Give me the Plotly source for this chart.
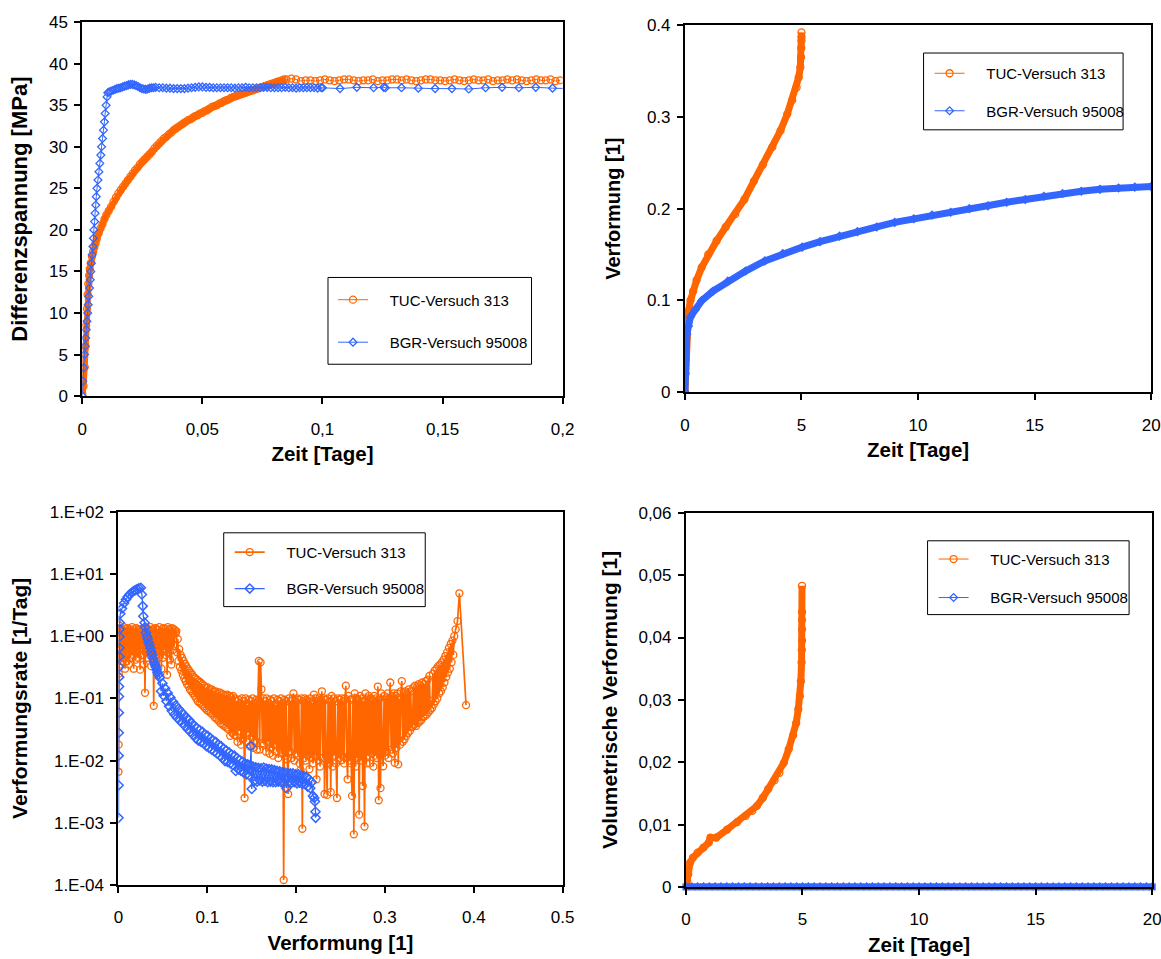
import plotly.graph_objects as go

ORANGE = "#FF6600"
BLUE = "#3366FF"
FONT = "Liberation Sans, Arial, sans-serif"

# figure size, html body margin and the page-to-screen scale used for placing subplots
W, H = 1181, 975
OFF = 8
SCALE = 0.983

NAME_TUC = "TUC-Versuch 313"
NAME_BGR = "BGR-Versuch 95008"
PAD = "\u00a0" * 4

# ---------------- Differenzspannung [MPa] über Zeit [Tage] ----------------
tuc_t1 = [0.0, 0.0005, 0.001, 0.0013, 0.0016, 0.0019, 0.0022, 0.0025, 0.0028, 0.0031,
          0.0035, 0.004, 0.0045, 0.005, 0.0055, 0.006, 0.0068, 0.0076, 0.0084, 0.0092,
          0.010, 0.011, 0.012, 0.013, 0.014, 0.015, 0.016, 0.017, 0.018, 0.019,
          0.020, 0.021, 0.022, 0.023, 0.024, 0.025, 0.026, 0.027, 0.028, 0.029,
          0.030, 0.031, 0.032, 0.033, 0.034, 0.035, 0.036, 0.037, 0.038, 0.039,
          0.040, 0.041, 0.042, 0.043, 0.044, 0.045, 0.046, 0.047, 0.048, 0.049,
          0.050, 0.051, 0.052, 0.053, 0.054, 0.055, 0.056, 0.057, 0.058, 0.059,
          0.060, 0.061, 0.062, 0.063, 0.064, 0.065, 0.066, 0.067, 0.068, 0.069,
          0.070, 0.071, 0.072, 0.073, 0.074, 0.075, 0.076, 0.077, 0.078, 0.079,
          0.080, 0.081, 0.082, 0.083, 0.084, 0.085,
          0.087, 0.089, 0.091, 0.093, 0.095, 0.097, 0.099, 0.101, 0.103, 0.105,
          0.107, 0.109, 0.111, 0.113, 0.115, 0.117, 0.119, 0.121, 0.123, 0.125,
          0.127, 0.129, 0.131, 0.133, 0.135, 0.137, 0.139, 0.141, 0.143, 0.145,
          0.147, 0.149, 0.151, 0.153, 0.155, 0.157, 0.159, 0.161, 0.163, 0.165,
          0.167, 0.169, 0.171, 0.173, 0.175, 0.177, 0.179, 0.181, 0.183, 0.185,
          0.187, 0.189, 0.191, 0.193, 0.195, 0.197, 0.199]
tuc_s1 = [0.3, 1.2, 3.5, 6.0, 8.5, 10.5, 12.2, 13.5, 14.5, 15.3,
          16.0, 16.8, 17.4, 17.9, 18.4, 18.9, 19.6, 20.2, 20.7, 21.3,
          21.8, 22.3, 22.8, 23.4, 23.9, 24.4, 24.8, 25.2, 25.6, 26.0,
          26.4, 26.8, 27.2, 27.5, 27.9, 28.2, 28.5, 28.8, 29.1, 29.4,
          29.8, 30.1, 30.4, 30.7, 31.0, 31.2, 31.5, 31.7, 32.0, 32.2,
          32.4, 32.6, 32.8, 33.0, 33.2, 33.3, 33.5, 33.7, 33.8, 34.0,
          34.1, 34.3, 34.4, 34.6, 34.8, 34.9, 35.0, 35.2, 35.3, 35.5,
          35.6, 35.7, 35.9, 36.0, 36.1, 36.2, 36.3, 36.4, 36.5, 36.6,
          36.7, 36.8, 36.9, 37.0, 37.1, 37.2, 37.3, 37.4, 37.5, 37.6,
          37.7, 37.8, 37.9, 38.0, 38.1, 38.1,
          38.2, 38.1, 37.9, 38.0, 38.0, 37.9, 38.0, 38.1, 38.0, 37.9,
          38.0, 38.1, 38.1, 38.0, 37.9, 38.0, 38.0, 38.1, 37.9, 38.0,
          38.0, 38.1, 38.1, 38.0, 38.1, 38.0, 37.9, 38.0, 38.1, 38.1,
          38.0, 38.0, 37.9, 38.0, 38.1, 38.0, 37.9, 38.0, 38.1, 38.0,
          38.0, 38.1, 37.9, 38.0, 38.0, 38.1, 38.0, 38.1, 38.0, 37.9,
          38.0, 38.1, 38.0, 38.0, 38.1, 37.9, 38.0]
TUC_RISE = 96  # points of the loading phase (dense, drawn as a band)

bgr_t1 = [0.0, 0.0002, 0.0006, 0.0009, 0.00115, 0.0014, 0.00165, 0.0019, 0.0022, 0.00245,
          0.0027, 0.0030, 0.0033, 0.0035, 0.0038, 0.0041, 0.0044, 0.0046, 0.0048, 0.0051,
          0.0053, 0.0056, 0.0058, 0.0061, 0.0065, 0.0069, 0.0073, 0.0077, 0.0080, 0.0084,
          0.0088, 0.0092, 0.0095, 0.0099, 0.0103, 0.0106,
          0.0112, 0.0120, 0.0128, 0.0136, 0.0144, 0.0152, 0.0160, 0.0168, 0.0176, 0.0184,
          0.0192, 0.0200, 0.0208, 0.0216, 0.0224, 0.0232, 0.0240, 0.0248, 0.0256, 0.0264,
          0.0272, 0.0280, 0.0288, 0.0296,
          0.0305, 0.032, 0.0335, 0.035, 0.0365, 0.038, 0.0395, 0.041, 0.0425, 0.044,
          0.0455, 0.047, 0.0485, 0.05, 0.0515, 0.053, 0.0545, 0.056, 0.0575, 0.059,
          0.0605, 0.062, 0.0635, 0.065, 0.0665, 0.068, 0.0695, 0.071, 0.0725, 0.074,
          0.0755, 0.077, 0.0785, 0.08, 0.0815, 0.083, 0.0845, 0.086, 0.0875, 0.089,
          0.0905, 0.092, 0.0935, 0.095, 0.0965, 0.098, 0.0995,
          0.1, 0.1073, 0.1143, 0.1213, 0.1255, 0.1262, 0.1329, 0.1399, 0.1469, 0.1539,
          0.1609, 0.1679, 0.1748, 0.1818, 0.1888, 0.1958, 0.2028]
bgr_s1 = [0.0, 1.8, 3.4, 5.0, 6.0, 7.0, 8.0, 9.0, 10.0, 11.0,
          12.0, 13.0, 14.0, 15.0, 16.0, 17.0, 18.0, 19.0, 20.0, 21.0,
          22.0, 23.0, 24.0, 25.0, 26.0, 27.0, 28.0, 29.0, 30.0, 31.0,
          32.0, 33.0, 34.0, 35.0, 36.0, 36.5,
          36.6, 36.7, 36.8, 36.9, 37.0, 37.05, 37.1, 37.2, 37.3, 37.35,
          37.45, 37.5, 37.5, 37.45, 37.35, 37.25, 37.1, 37.0, 36.95, 36.9,
          36.95, 37.05, 37.1, 37.1,
          37.15, 37.1, 37.1, 37.05, 37.05, 37.0, 37.0, 37.0, 37.0, 37.05,
          37.1, 37.15, 37.2, 37.2, 37.15, 37.15, 37.1, 37.1, 37.1, 37.1,
          37.1, 37.1, 37.05, 37.1, 37.1, 37.15, 37.1, 37.1, 37.1, 37.1,
          37.15, 37.15, 37.1, 37.1, 37.1, 37.1, 37.15, 37.1, 37.1, 37.05,
          37.1, 37.1, 37.1, 37.1, 37.1, 37.05, 37.1,
          37.1, 37.0, 37.15, 37.1, 37.15, 37.1, 37.1, 37.05, 37.0, 37.0,
          36.95, 37.1, 37.15, 37.1, 37.15, 37.05, 37.0]

# ---------------- Verformung [1] über Zeit [Tage] ----------------
tuc_t2 = [0.0, 0.02, 0.04, 0.06, 0.1, 0.15, 0.24, 0.35, 0.5, 0.72,
          1.0, 1.36, 1.75, 2.16, 2.55, 2.96, 3.35, 3.75, 4.1, 4.39,
          4.6, 4.79, 4.88, 4.95, 4.98, 4.99, 5.0, 5.0, 5.0]
tuc_eps2 = [0.0, 0.02, 0.045, 0.06, 0.075, 0.088, 0.1, 0.11, 0.122, 0.136,
            0.15, 0.165, 0.18, 0.194, 0.21, 0.23, 0.248, 0.267, 0.285, 0.303,
            0.318, 0.332, 0.343, 0.354, 0.365, 0.375, 0.383, 0.387, 0.392]
bgr_t2 = [0.0, 0.005, 0.01, 0.03, 0.08, 0.15, 0.24, 0.45, 0.72, 1.2,
          1.84, 2.6, 3.43, 4.2, 5.03, 5.8, 6.63, 7.4, 8.23, 9.0,
          9.82, 10.6, 11.4, 12.2, 13.0, 13.8, 14.6, 15.4, 16.2, 17.0,
          17.8, 18.6, 19.3, 20.0]
bgr_eps2 = [0.0, 0.02, 0.035, 0.05, 0.063, 0.072, 0.082, 0.09, 0.0997, 0.11,
            0.121, 0.132, 0.143, 0.151, 0.158, 0.164, 0.17, 0.175, 0.18, 0.185,
            0.189, 0.193, 0.196, 0.2, 0.203, 0.207, 0.21, 0.2135, 0.2165, 0.219,
            0.221, 0.2225, 0.2235, 0.224]

# ---------------- Verformungsrate [1/Tag] über Verformung [1] ----------------
tuc_eps3_a = [0.0000, 0.0002, 0.0004, 0.0006, 0.0008, 0.0010, 0.0013, 0.0016, 0.0020, 0.0024,
              0.0028, 0.0032, 0.0036, 0.0040, 0.0045, 0.0050, 0.0055, 0.0060, 0.0065, 0.0070,
              0.0075, 0.0080, 0.0085, 0.0090, 0.0095, 0.0100, 0.0106, 0.0112, 0.0118, 0.0124,
              0.0130, 0.0136, 0.0142, 0.0148, 0.0154, 0.0160, 0.0166, 0.0172, 0.0178, 0.0184,
              0.0190, 0.0196, 0.0202, 0.0208, 0.0214, 0.0220, 0.0226, 0.0232, 0.0238, 0.0244,
              0.0250, 0.0257, 0.0264, 0.0271, 0.0278, 0.0285, 0.0292, 0.0299, 0.0306, 0.0313,
              0.0320, 0.0327, 0.0334, 0.0341, 0.0348, 0.0355, 0.0362, 0.0369, 0.0376, 0.0383,
              0.0390, 0.0397, 0.0404, 0.0411, 0.0418, 0.0425, 0.0432, 0.0439, 0.0446, 0.0453,
              0.0460, 0.0468, 0.0476, 0.0484, 0.0492, 0.0500, 0.0508, 0.0516, 0.0524, 0.0532,
              0.0540, 0.0548, 0.0556, 0.0564, 0.0572, 0.0580, 0.0588, 0.0596, 0.0604, 0.0612,
              0.0620, 0.0628, 0.0636, 0.0644]
tuc_rate3_a = [0.0066, 0.018, 0.25, 0.9, 1.5, 0.45, 1.2, 0.6, 1.35, 0.35,
               1.1, 0.5, 1.3, 0.7, 0.4, 1.25, 0.55, 1.4, 0.45, 1.2,
               0.3, 1.3, 0.65, 1.1, 0.4, 1.35, 0.55, 1.2, 0.35, 1.3,
               0.8, 0.45, 1.25, 0.6, 1.4, 0.5, 1.1, 0.3, 1.3, 0.7,
               1.2, 0.42, 1.35, 0.55, 1.15, 0.45, 1.3, 0.6, 1.25, 0.29,
               1.3, 0.75, 1.2, 0.5, 1.3, 0.35, 1.1, 0.123, 1.35, 0.65,
               1.25, 0.45, 1.3, 0.6, 1.2, 0.5, 1.4, 0.33, 1.25, 0.7,
               1.3, 0.076, 1.15, 0.55, 1.35, 0.38, 1.3, 0.6, 1.25, 0.45,
               1.4, 0.5, 1.2, 0.3, 1.3, 0.45, 1.35, 0.6, 1.3, 0.5,
               1.2, 0.24, 1.4, 0.55, 1.3, 0.42, 1.25, 0.35, 1.35, 0.6,
               1.3, 0.7, 1.25, 1.1]
tuc_eps3_b = [0.0652, 0.0660, 0.0668, 0.0676, 0.0684, 0.0692, 0.0700, 0.0708, 0.0716, 0.0724,
              0.0732, 0.0740, 0.0748, 0.0756, 0.0764, 0.0772, 0.0780, 0.0788, 0.0796, 0.0804,
              0.0813, 0.0822, 0.0831, 0.0840, 0.0849, 0.0858, 0.0867, 0.0876, 0.0885, 0.0894,
              0.0904, 0.0914, 0.0924, 0.0934, 0.0944, 0.0954, 0.0964, 0.0974, 0.0984, 0.0994,
              0.1005, 0.1016, 0.1027, 0.1038, 0.1049, 0.1060, 0.1071, 0.1082, 0.1093, 0.1104,
              0.1115, 0.1126, 0.1137, 0.1148, 0.1159, 0.1170, 0.1181, 0.1192, 0.1203, 0.1214,
              0.1225, 0.1236, 0.1247, 0.1258, 0.1269, 0.1280, 0.1291, 0.1302]
tuc_rate3_b = [1.2, 0.55, 0.9, 0.4, 0.62, 0.32, 0.5, 0.28, 0.45, 0.24,
               0.4, 0.21, 0.36, 0.19, 0.33, 0.17, 0.3, 0.16, 0.28, 0.14,
               0.26, 0.13, 0.24, 0.12, 0.22, 0.11, 0.21, 0.1, 0.2, 0.09,
               0.19, 0.085, 0.18, 0.08, 0.17, 0.075, 0.16, 0.07, 0.15, 0.065,
               0.15, 0.062, 0.14, 0.058, 0.14, 0.055, 0.13, 0.05, 0.13, 0.047,
               0.12, 0.044, 0.125, 0.04, 0.12, 0.038, 0.115, 0.036, 0.11, 0.034,
               0.115, 0.032, 0.11, 0.025, 0.105, 0.028, 0.11, 0.026]
tuc_eps3_c = [0.131, 0.132, 0.133, 0.134, 0.135, 0.136, 0.137, 0.138, 0.139, 0.140,
              0.141, 0.142, 0.143, 0.144, 0.145, 0.146, 0.147, 0.148, 0.149, 0.150,
              0.151, 0.152, 0.153, 0.154, 0.155, 0.156, 0.157, 0.158, 0.159, 0.160,
              0.161, 0.162, 0.163, 0.164, 0.165, 0.166, 0.167, 0.168, 0.169, 0.170,
              0.171, 0.172, 0.173, 0.174, 0.175, 0.176, 0.177, 0.178, 0.179, 0.180,
              0.181, 0.182, 0.183, 0.184, 0.185, 0.186, 0.187, 0.188, 0.189, 0.190,
              0.191, 0.192, 0.193, 0.194, 0.195, 0.196, 0.197, 0.198, 0.199, 0.200,
              0.201, 0.202, 0.203, 0.204, 0.205, 0.206, 0.207, 0.208, 0.209, 0.210,
              0.211, 0.212, 0.213, 0.214, 0.215, 0.216, 0.217, 0.218, 0.219, 0.220,
              0.221, 0.222, 0.223, 0.224, 0.225, 0.226, 0.227, 0.228, 0.229, 0.230,
              0.231, 0.232, 0.233, 0.234, 0.235, 0.236, 0.237, 0.238, 0.239, 0.240,
              0.241, 0.242, 0.243, 0.244, 0.245, 0.246, 0.247, 0.248, 0.249, 0.250,
              0.251, 0.252, 0.253, 0.254, 0.255, 0.256, 0.257, 0.258, 0.259, 0.260,
              0.261, 0.262, 0.263, 0.264, 0.265, 0.266, 0.267, 0.268, 0.269, 0.270,
              0.271, 0.272, 0.273, 0.274, 0.275, 0.276, 0.277, 0.278, 0.279, 0.280,
              0.281, 0.282, 0.283, 0.284, 0.285, 0.286, 0.287, 0.288, 0.289, 0.290,
              0.291, 0.292, 0.293, 0.294, 0.295, 0.296, 0.297, 0.298, 0.299, 0.300,
              0.301, 0.302, 0.303, 0.304, 0.305, 0.306, 0.307, 0.308, 0.309, 0.310,
              0.311, 0.312, 0.313, 0.314, 0.315, 0.316, 0.317, 0.318, 0.319, 0.320,
              0.321, 0.322, 0.323, 0.324, 0.325, 0.326, 0.327, 0.328, 0.329, 0.330]
tuc_rate3_c = [0.1, 0.025, 0.09, 0.02, 0.095, 0.03, 0.085, 0.018, 0.1, 0.022,
               0.09, 0.0025, 0.1, 0.02, 0.08, 0.028, 0.095, 0.017, 0.09, 0.024,
               0.1, 0.016, 0.085, 0.021, 0.095, 0.015, 0.09, 0.4, 0.015, 0.38,
               0.14, 0.019, 0.1, 0.018, 0.09, 0.014, 0.1, 0.02, 0.085, 0.013,
               0.095, 0.016, 0.09, 0.012, 0.1, 0.018, 0.08, 0.014, 0.095, 0.011,
               0.09, 0.015, 0.1, 0.013, 0.085, 0.00012, 0.095, 0.012, 0.09, 0.0105,
               0.0029, 0.1, 0.014, 0.09, 0.011, 0.1, 0.12, 0.01, 0.09, 0.013,
               0.1, 0.012, 0.095, 0.009, 0.0071, 0.1, 0.0008, 0.09, 0.011, 0.1,
               0.01, 0.095, 0.012, 0.09, 0.0073, 0.1, 0.011, 0.085, 0.009, 0.115,
               0.012, 0.1, 0.005, 0.09, 0.01, 0.1, 0.008, 0.095, 0.13, 0.011,
               0.1, 0.0029, 0.095, 0.01, 0.0028, 0.1, 0.009, 0.09, 0.0031, 0.11,
               0.008, 0.1, 0.012, 0.09, 0.009, 0.0025, 0.1, 0.011, 0.095, 0.01,
               0.1, 0.012, 0.09, 0.009, 0.1, 0.16, 0.011, 0.005, 0.11, 0.01,
               0.095, 0.009, 0.0027, 0.1, 0.00065, 0.12, 0.008, 0.1, 0.011, 0.095,
               0.00135, 0.11, 0.01, 0.1, 0.0039, 0.09, 0.00087, 0.12, 0.009, 0.1,
               0.012, 0.11, 0.009, 0.1, 0.013, 0.095, 0.008, 0.11, 0.012, 0.1,
               0.011, 0.155, 0.0023, 0.1, 0.0036, 0.12, 0.013, 0.0081, 0.11, 0.012,
               0.1, 0.014, 0.12, 0.011, 0.1, 0.18, 0.015, 0.11, 0.013, 0.12,
               0.0092, 0.11, 0.016, 0.12, 0.0087, 0.1, 0.018, 0.13, 0.19, 0.02,
               0.12, 0.022, 0.13, 0.025, 0.12, 0.028, 0.14, 0.03, 0.13, 0.035]
tuc_eps3_d = [0.331, 0.332, 0.333, 0.334, 0.335, 0.336, 0.337, 0.338, 0.339, 0.340,
              0.341, 0.342, 0.343, 0.344, 0.345, 0.346, 0.347, 0.348, 0.349, 0.350,
              0.351, 0.352, 0.353, 0.354, 0.355, 0.356, 0.357, 0.358, 0.359, 0.360,
              0.361, 0.362, 0.363, 0.364, 0.365, 0.366, 0.367, 0.368, 0.369, 0.370,
              0.371, 0.372, 0.373, 0.374, 0.375, 0.376, 0.377, 0.378,
              0.3796, 0.3817, 0.3838, 0.3913]
tuc_rate3_d = [0.035, 0.15, 0.038, 0.16, 0.036, 0.15, 0.04, 0.17, 0.042, 0.16,
               0.045, 0.18, 0.05, 0.17, 0.052, 0.19, 0.055, 0.2, 0.06, 0.23,
               0.065, 0.091, 0.07, 0.25, 0.08, 0.28, 0.09, 0.3, 0.1, 0.33,
               0.12, 0.35, 0.13, 0.38, 0.15, 0.42, 0.18, 0.48, 0.22, 0.55,
               0.26, 0.65, 0.3, 0.75, 0.38, 0.85, 0.5, 1.0,
               1.29, 1.75, 4.9, 0.078]

bgr_eps3_rise = [0.0001, 0.0002, 0.0003, 0.0004, 0.0005, 0.0006, 0.0007, 0.0008, 0.0009, 0.0010,
                 0.0011, 0.0012, 0.0013, 0.0015, 0.0021, 0.0040, 0.0063, 0.0085, 0.0105, 0.0125,
                 0.0147, 0.0170, 0.0190, 0.0210, 0.0230, 0.0252, 0.0264, 0.0273, 0.0280, 0.0294]
bgr_rate3_rise = [0.0012, 0.004, 0.012, 0.028, 0.059, 0.107, 0.155, 0.22, 0.32, 0.47,
                  0.65, 0.98, 1.3, 1.65, 2.3, 2.8, 3.4, 3.9, 4.3, 4.7,
                  5.0, 5.3, 5.5, 5.7, 5.9, 6.0, 4.7, 3.05, 2.1, 1.65]
bgr_eps3_fall = [0.030, 0.031, 0.032, 0.033, 0.034, 0.035, 0.036, 0.037, 0.038, 0.039,
                 0.040, 0.041, 0.042, 0.043, 0.044, 0.045,
                 0.0465, 0.048, 0.0495, 0.051, 0.0525, 0.054, 0.0555, 0.057, 0.0585, 0.06,
                 0.0615, 0.063, 0.0645, 0.066, 0.0675, 0.069, 0.0705, 0.072, 0.0735, 0.075,
                 0.0765, 0.078, 0.0795, 0.081, 0.0825, 0.084, 0.0855, 0.087, 0.0885, 0.09,
                 0.0915, 0.093, 0.0945, 0.096, 0.0975, 0.099, 0.1005, 0.102, 0.1035, 0.105,
                 0.1065, 0.108, 0.1095, 0.111, 0.1125, 0.114, 0.1155, 0.117, 0.1185, 0.12,
                 0.1215, 0.123, 0.1245, 0.126, 0.1275, 0.129, 0.1305, 0.132, 0.1335, 0.135,
                 0.1365, 0.138, 0.1395, 0.141, 0.1425, 0.144, 0.1455, 0.147, 0.1485, 0.1493,
                 0.15]
bgr_rate3_fall = [1.4, 1.15, 1.0, 0.9, 0.8, 0.72, 0.64, 0.56, 0.5, 0.44,
                  0.39, 0.35, 0.32, 0.29, 0.26, 0.24,
                  0.215, 0.13, 0.175, 0.11, 0.145, 0.09, 0.122, 0.075, 0.103, 0.063,
                  0.088, 0.055, 0.077, 0.049, 0.068, 0.044, 0.061, 0.04, 0.055, 0.036,
                  0.049, 0.032, 0.045, 0.029, 0.04, 0.026, 0.036, 0.023, 0.033, 0.021,
                  0.031, 0.02, 0.029, 0.019, 0.026, 0.017, 0.025, 0.016, 0.023, 0.015,
                  0.021, 0.014, 0.02, 0.013, 0.018, 0.012, 0.017, 0.011, 0.0155, 0.0098,
                  0.0145, 0.0095, 0.0135, 0.009, 0.0125, 0.0085, 0.012, 0.0068, 0.011, 0.0072,
                  0.0102, 0.0068, 0.0096, 0.0064, 0.009, 0.006, 0.0087, 0.0058, 0.0085, 0.017,
                  0.0035]
bgr_eps3_tail = [0.1515, 0.153, 0.1545, 0.156, 0.1575, 0.159, 0.1605, 0.162, 0.1635, 0.165,
                 0.1665, 0.168, 0.1695, 0.171, 0.1725, 0.174, 0.1755, 0.177, 0.1785, 0.18,
                 0.1815, 0.183, 0.1845, 0.186, 0.1875, 0.189, 0.1905, 0.192, 0.1935, 0.195,
                 0.1965, 0.198, 0.1995, 0.201, 0.2025, 0.204, 0.2055, 0.207, 0.2085, 0.21,
                 0.2115, 0.213, 0.2145, 0.216, 0.2175, 0.219, 0.2205, 0.2212, 0.2218, 0.222]
bgr_rate3_tail = [0.008, 0.0047, 0.0078, 0.0046, 0.0076, 0.0048, 0.0075, 0.0046, 0.0077, 0.0047,
                  0.0074, 0.0045, 0.0073, 0.0046, 0.0072, 0.0045, 0.007, 0.0045, 0.0068, 0.0046,
                  0.0067, 0.0045, 0.0065, 0.0044, 0.0064, 0.0036, 0.0063, 0.0045, 0.0062, 0.0044,
                  0.0062, 0.0045, 0.006, 0.0043, 0.006, 0.0044, 0.0058, 0.0042, 0.0057, 0.0042,
                  0.0055, 0.0038, 0.005, 0.0036, 0.0045, 0.0027, 0.0025, 0.0022, 0.0015, 0.0012]

# ---------------- Volumetrische Verformung [1] über Zeit [Tage] ----------------
tuc_t4 = [0.0, 0.05, 0.1, 0.18, 0.3, 0.5, 0.75, 0.98, 1.05, 1.3,
          1.77, 2.2, 2.57, 2.85, 3.05, 3.3, 3.53, 3.8, 4.01, 4.2,
          4.41, 4.6, 4.73, 4.82, 4.89, 4.93, 4.96, 4.97, 4.98, 4.98,
          4.98, 4.98, 4.98]
tuc_vol4 = [0.0, 0.001, 0.002, 0.0039, 0.0047, 0.0055, 0.0063, 0.0071, 0.0079, 0.0079,
            0.0092, 0.0104, 0.0114, 0.0122, 0.013, 0.0143, 0.0157, 0.0171, 0.0183, 0.0199,
            0.0221, 0.0243, 0.0263, 0.0285, 0.0306, 0.033, 0.036, 0.038, 0.0395, 0.0413,
            0.0428, 0.0441, 0.0483]
bgr_t4 = [0.0, 0.25, 0.5, 0.75, 1.0, 1.25, 1.5, 1.75, 2.0, 2.25,
          2.5, 2.75, 3.0, 3.25, 3.5, 3.75, 4.0, 4.25, 4.5, 4.75,
          5.0, 5.25, 5.5, 5.75, 6.0, 6.25, 6.5, 6.75, 7.0, 7.25,
          7.5, 7.75, 8.0, 8.25, 8.5, 8.75, 9.0, 9.25, 9.5, 9.75,
          10.0, 10.25, 10.5, 10.75, 11.0, 11.25, 11.5, 11.75, 12.0, 12.25,
          12.5, 12.75, 13.0, 13.25, 13.5, 13.75, 14.0, 14.25, 14.5, 14.75,
          15.0, 15.25, 15.5, 15.75, 16.0, 16.25, 16.5, 16.75, 17.0, 17.25,
          17.5, 17.75, 18.0, 18.25, 18.5, 18.75, 19.0, 19.25, 19.5, 19.75,
          20.0]
bgr_vol4 = [0.0, 0.0, 0.0, 0.0, 0.0, 0.0, 0.0, 0.0, 0.0, 0.0,
            0.0, 0.0, 0.0, 0.0, 0.0, 0.0, 0.0, 0.0, 0.0, 0.0,
            0.0, 0.0, 0.0, 0.0, 0.0, 0.0, 0.0, 0.0, 0.0, 0.0,
            0.0, 0.0, 0.0, 0.0, 0.0, 0.0, 0.0, 0.0, 0.0, 0.0,
            0.0, 0.0, 0.0, 0.0, 0.0, 0.0, 0.0, 0.0, 0.0, 0.0,
            0.0, 0.0, 0.0, 0.0, 0.0, 0.0, 0.0, 0.0, 0.0, 0.0,
            0.0, 0.0, 0.0, 0.0, 0.0, 0.0, 0.0, 0.0, 0.0, 0.0,
            0.0, 0.0, 0.0, 0.0, 0.0, 0.0, 0.0, 0.0, 0.0, 0.0,
            0.0]

# ---------------- tick labels ----------------
x1_vals = [0, 0.05, 0.1, 0.15, 0.2]
x1_text = ["0", "0,05", "0,1", "0,15", "0,2"]
y1_vals = [0, 5, 10, 15, 20, 25, 30, 35, 40, 45]
y1_text = ["0", "5", "10", "15", "20", "25", "30", "35", "40", "45"]
x2_vals = [0, 5, 10, 15, 20]
x2_text = ["0", "5", "10", "15", "20"]
y2_vals = [0, 0.1, 0.2, 0.3, 0.4]
y2_text = ["0", "0.1", "0.2", "0.3", "0.4"]
x3_vals = [0, 0.1, 0.2, 0.3, 0.4, 0.5]
x3_text = ["0", "0.1", "0.2", "0.3", "0.4", "0.5"]
y3_vals = [1e-4, 1e-3, 1e-2, 1e-1, 1e0, 1e1, 1e2]
y3_text = ["1.E-04", "1.E-03", "1.E-02", "1.E-01", "1.E+00", "1.E+01", "1.E+02"]
x4_vals = [0, 5, 10, 15, 20]
x4_text = ["0", "5", "10", "15", "20"]
y4_vals = [0, 0.01, 0.02, 0.03, 0.04, 0.05, 0.06]
y4_text = ["0", "0,01", "0,02", "0,03", "0,04", "0,05", "0,06"]

tuc_eps3 = tuc_eps3_a + tuc_eps3_b + tuc_eps3_c + tuc_eps3_d
tuc_rate3 = tuc_rate3_a + tuc_rate3_b + tuc_rate3_c + tuc_rate3_d
bgr_eps3 = bgr_eps3_rise + bgr_eps3_fall + bgr_eps3_tail
bgr_rate3 = bgr_rate3_rise + bgr_rate3_fall + bgr_rate3_tail

for a, b in [(tuc_t1, tuc_s1), (bgr_t1, bgr_s1), (tuc_t2, tuc_eps2), (bgr_t2, bgr_eps2),
             (tuc_eps3, tuc_rate3), (bgr_eps3, bgr_rate3), (tuc_t4, tuc_vol4), (bgr_t4, bgr_vol4)]:
    assert len(a) == len(b), (len(a), len(b))


def circle_marker():
    return dict(symbol="circle-open", size=7, color=ORANGE, line=dict(width=1.3, color=ORANGE))


def diamond_marker(size=6, lw=1.3):
    return dict(symbol="diamond-open", size=size, color=BLUE, line=dict(width=lw, color=BLUE))


fig = go.Figure()


def axes_of(ax):
    return ("x", "y") if ax == 1 else (f"x{ax}", f"y{ax}")


def add_band(x, y, ax, color, width):
    # many overlapping measurement points merge into a solid band
    xa, ya = axes_of(ax)
    fig.add_trace(go.Scatter(x=x, y=y, xaxis=xa, yaxis=ya, mode="lines",
                             line=dict(color=color, width=width), showlegend=False,
                             hoverinfo="skip"))


def add_series(x, y, ax, name, color, marker, legend, group, lw=1.0):
    xa, ya = axes_of(ax)
    fig.add_trace(go.Scatter(x=x, y=y, xaxis=xa, yaxis=ya, mode="lines+markers",
                             name=PAD + name, line=dict(color=color, width=lw, simplify=False),
                             marker=marker, legend=legend, legendgroup=group))


# top left
add_band(tuc_t1[:TUC_RISE], tuc_s1[:TUC_RISE], 1, ORANGE, 6)
add_series(tuc_t1, tuc_s1, 1, NAME_TUC, ORANGE, circle_marker(), "legend", "a1")
add_series(bgr_t1, bgr_s1, 1, NAME_BGR, BLUE, diamond_marker(), "legend", "b1")
# top right
add_band(tuc_t2, tuc_eps2, 2, ORANGE, 7)
add_series(tuc_t2, tuc_eps2, 2, NAME_TUC, ORANGE, circle_marker(), "legend2", "a2")
add_band(bgr_t2, bgr_eps2, 2, BLUE, 7)
add_series(bgr_t2, bgr_eps2, 2, NAME_BGR, BLUE, diamond_marker(), "legend2", "b2")
# bottom left
add_series(tuc_eps3, tuc_rate3, 3, NAME_TUC, ORANGE, circle_marker(), "legend3", "a3", lw=1.7)
add_series(bgr_eps3, bgr_rate3, 3, NAME_BGR, BLUE, diamond_marker(7, 1.5), "legend3", "b3",
           lw=1.3)
# bottom right
add_band(tuc_t4, tuc_vol4, 4, ORANGE, 7)
add_series(tuc_t4, tuc_vol4, 4, NAME_TUC, ORANGE, circle_marker(), "legend4", "a4")
add_series(bgr_t4, bgr_vol4, 4, NAME_BGR, BLUE, diamond_marker(), "legend4", "b4")
# the zero line sits on the axis: draw the merged points unclipped
fig.add_trace(go.Scatter(x=bgr_t4, y=bgr_vol4, xaxis="x4", yaxis="y4", mode="markers",
                         marker=dict(symbol="square", size=7, color=BLUE, line=dict(width=0)),
                         cliponaxis=False, showlegend=False, hoverinfo="skip"))


def fx(px):
    return (px / SCALE - OFF) / W


def fy(py):
    return 1 - (py / SCALE - OFF) / H


def px_x(a, b):
    return [fx(a), fx(b)]


def px_y(top, bottom):
    return [fy(bottom), fy(top)]


def axis(domain, rng, vals, text, title, standoff, anchor, kind="linear", lso=3, tsize=20.5):
    return dict(domain=domain, range=rng, type=kind, tickmode="array", tickvals=vals,
                ticktext=text, showline=True, linecolor="black", linewidth=2, mirror=True,
                ticks="outside", ticklen=6, tickwidth=1.5, tickcolor="black",
                showgrid=False, zeroline=False, anchor=anchor, ticklabelstandoff=lso,
                tickfont=dict(family=FONT, size=17, color="black"),
                title=dict(text=title, standoff=standoff,
                           font=dict(family=FONT, size=tsize, color="black", weight="bold")))


def legend_box(left, top, gap):
    return dict(x=fx(left), y=fy(top), xanchor="left", yanchor="top",
                bgcolor="rgba(0,0,0,0)", borderwidth=0, traceorder="grouped",
                tracegroupgap=gap, itemwidth=30,
                font=dict(family=FONT, size=15, color="black"))


boxes = [(330, 277, 533, 364), (924, 52, 1123, 129), (226, 533, 427, 607), (928, 541, 1129, 615)]
shapes = [dict(type="rect", xref="paper", yref="paper", x0=fx(l), x1=fx(r),
               y0=fy(b), y1=fy(t), line=dict(color="black", width=1),
               fillcolor="white", layer="above") for (l, t, r, b) in boxes]

fig.update_layout(
    width=W, height=H, margin=dict(l=0, r=0, t=0, b=0),
    paper_bgcolor="white", plot_bgcolor="white",
    font=dict(family=FONT, color="black"),
    shapes=shapes,
    xaxis=axis(px_x(85, 564), [0, 0.2], x1_vals, x1_text, "Zeit [Tage]", 9, "y", lso=10),
    yaxis=axis(px_y(21, 396), [0, 45], y1_vals, y1_text, "Differenzspannung [MPa]", 15, "x",
               tsize=22),
    xaxis2=axis(px_x(686, 1151), [0, 20], x2_vals, x2_text, "Zeit [Tage]", 9, "y2", lso=10),
    yaxis2=axis(px_y(24, 392), [0, 0.4], y2_vals, y2_text, "Verformung [1]", 21, "x2",
                tsize=20),
    xaxis3=axis(px_x(121, 564), [0, 0.5], x3_vals, x3_text, "Verformung [1]", 9, "y3", lso=10),
    yaxis3=axis(px_y(512, 886), [-4, 2], y3_vals, y3_text, "Verformungsrate [1/Tag]", 16, "x3",
                kind="log", tsize=21),
    xaxis4=axis(px_x(687, 1152), [0, 20], x4_vals, x4_text, "Zeit [Tage]", 9, "y4", lso=10),
    yaxis4=axis(px_y(513, 888), [0, 0.06], y4_vals, y4_text, "Volumetrische Verformung [1]", 15,
                "x4", tsize=21),
    legend=legend_box(335, 283, 20),
    legend2=legend_box(930, 56, 15),
    legend3=legend_box(232, 536, 14),
    legend4=legend_box(934, 543, 16),
)

fig.write_html("out.html")
